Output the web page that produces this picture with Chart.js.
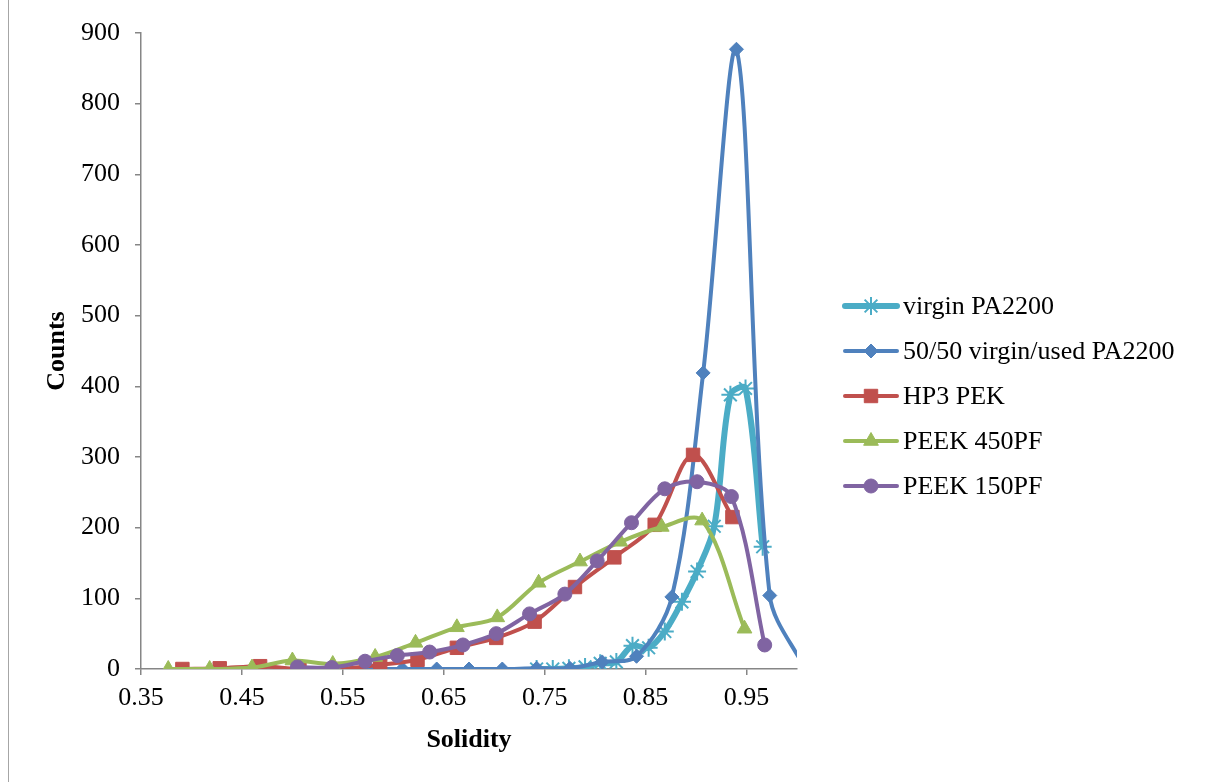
<!DOCTYPE html>
<html>
<head>
<meta charset="utf-8">
<script src="https://cdn.jsdelivr.net/npm/chart.js@4/dist/chart.umd.min.js"></script>
<style>
  html, body { margin: 0; padding: 0; background: #fff; }
  canvas { display: block; }
</style>
</head>
<body>
<canvas id="solidity" width="1210" height="782"></canvas>
<script>
// solidity distribution per powder
const xTicks = [0.35, 0.45, 0.55, 0.65, 0.75, 0.85, 0.95];

const virginX = [0.742, 0.758, 0.774, 0.790, 0.805, 0.821, 0.837, 0.853, 0.869, 0.886, 0.901, 0.918, 0.934, 0.949, 0.966];
const virginY = [0, 0, 1, 3, 8, 10, 33, 30, 53, 95, 138, 202, 388, 397, 173];

const blendX = [0.541, 0.575, 0.609, 0.643, 0.675, 0.708, 0.742, 0.775, 0.807, 0.841, 0.876, 0.907, 0.940, 0.973, 1.008];
const blendY = [0, 0, 0, 0, 0, 0, 1, 1, 10, 18, 102, 419, 877, 104, 0];

const hp3X = [0.391, 0.428, 0.468, 0.507, 0.547, 0.587, 0.624, 0.663, 0.702, 0.740, 0.780, 0.819, 0.859, 0.897, 0.936];
const hp3Y = [0, 1, 4, 0, 0, 6, 13, 30, 44, 67, 116, 158, 204, 303, 215];

const peek450X = [0.377, 0.418, 0.460, 0.500, 0.540, 0.582, 0.622, 0.663, 0.703, 0.744, 0.785, 0.825, 0.866, 0.906, 0.948];
const peek450Y = [0, 0, 2, 12, 7, 17, 37, 59, 73, 122, 152, 180, 201, 210, 57];

const peek150X = [0.505, 0.539, 0.572, 0.604, 0.636, 0.669, 0.702, 0.735, 0.770, 0.802, 0.836, 0.869, 0.901, 0.935, 0.968];
const peek150Y = [3, 2, 11, 19, 24, 34, 50, 78, 106, 153, 207, 255, 265, 244, 34];

const seriesNames = ['virgin PA2200', '50/50 virgin/used PA2200', 'HP3 PEK', 'PEEK 450PF', 'PEEK 150PF'];

const FONT = 'Liberation Serif';
const FONT_SIZE = 26;
const AXIS_GREY = '#868686';

const toPoints = (xs, ys) => xs.map((x, i) => ({ x: x, y: ys[i] }));

const makeSeries = (label, xs, ys, color, style, radius, lineWidth, order) => ({
    label: label,
    data: toPoints(xs, ys),
    borderColor: color,
    backgroundColor: color,
    borderWidth: lineWidth,
    pointStyle: style,
    pointRadius: radius,
    pointHoverRadius: radius,
    pointBackgroundColor: color,
    pointBorderColor: color,
    pointBorderWidth: style === 'star' ? 2 : 1,
    tension: 0.33,
    fill: false,
    showLine: true,
    order: order
});

// legend on the right: line sample with marker, then the name
const sideLegend = {
    id: 'sideLegend',
    afterDraw(chart) {
        const ctx = chart.ctx;
        ctx.save();
        chart.data.datasets.forEach((ds, i) => {
            const y = 306 + i * 45;
            ctx.strokeStyle = ds.borderColor;
            ctx.lineWidth = ds.borderWidth;
            ctx.lineCap = 'round';
            ctx.beginPath();
            ctx.moveTo(845, y);
            ctx.lineTo(897, y);
            ctx.stroke();
            ctx.lineCap = 'butt';
            ctx.fillStyle = ds.pointBackgroundColor;
            ctx.strokeStyle = ds.pointBorderColor;
            ctx.lineWidth = ds.pointBorderWidth;
            Chart.helpers.drawPoint(ctx, {
                pointStyle: ds.pointStyle,
                radius: ds.pointRadius,
                rotation: 0,
                borderWidth: ds.pointBorderWidth
            }, 871, y);
            ctx.fillStyle = '#000';
            ctx.font = FONT_SIZE + 'px "' + FONT + '"';
            ctx.textBaseline = 'middle';
            ctx.textAlign = 'left';
            ctx.fillText(ds.label, 903, y + 1);
        });
        ctx.restore();
    }
};

const frame = {
    id: 'frame',
    beforeDraw(chart) {
        const ctx = chart.ctx;
        ctx.save();
        ctx.fillStyle = '#fff';
        ctx.fillRect(0, 0, chart.width, chart.height);
        ctx.strokeStyle = '#a6a6a6';
        ctx.lineWidth = 1;
        ctx.beginPath();
        ctx.moveTo(8.5, 0);
        ctx.lineTo(8.5, chart.height);
        ctx.stroke();
        ctx.restore();
    }
};

const canvasContext = document.getElementById('solidity').getContext('2d');
const solidityChart = new Chart(canvasContext, {
    type: 'line',
    data: {
        datasets: [
            makeSeries(seriesNames[0], virginX, virginY, '#4BACC6', 'star', 9, 6, 5),
            makeSeries(seriesNames[1], blendX, blendY, '#4F81BD', 'rectRot', 7, 4, 4),
            makeSeries(seriesNames[2], hp3X, hp3Y, '#C0504D', 'rect', 9.5, 4, 3),
            makeSeries(seriesNames[3], peek450X, peek450Y, '#9BBB59', 'triangle', 8.5, 4, 2),
            makeSeries(seriesNames[4], peek150X, peek150Y, '#8064A2', 'circle', 7, 4, 1)
        ]
    },
    options: {
        responsive: false,
        devicePixelRatio: 1,
        animation: false,
        layout: { padding: { left: 38, right: 413, top: 33, bottom: 22 } },
        plugins: {
            legend: { display: false },
            tooltip: { enabled: false }
        },
        scales: {
            x: {
                type: 'linear',
                min: 0.35,
                max: 1.0,
                afterFit: (scale) => { scale.height = 91; },
                afterBuildTicks: (scale) => { scale.ticks = xTicks.map(v => ({ value: v })); },
                grid: { drawOnChartArea: false, drawTicks: true, tickLength: 6, color: AXIS_GREY, lineWidth: 1.5 },
                border: { display: true, color: AXIS_GREY, width: 1.5 },
                ticks: {
                    autoSkip: false,
                    maxRotation: 0,
                    padding: 8,
                    color: '#000',
                    font: { family: FONT, size: FONT_SIZE },
                    callback: (value) => Number(value).toFixed(2)
                },
                title: {
                    display: true,
                    text: 'Solidity',
                    color: '#000',
                    font: { family: FONT, size: FONT_SIZE, weight: 'bold' }
                }
            },
            y: {
                min: 0,
                max: 900,
                afterFit: (scale) => { scale.width = 103; },
                grid: { drawOnChartArea: false, drawTicks: true, tickLength: 6, color: AXIS_GREY, lineWidth: 1.5 },
                border: { display: true, color: AXIS_GREY, width: 1.5 },
                ticks: {
                    stepSize: 100,
                    padding: 15,
                    color: '#000',
                    font: { family: FONT, size: FONT_SIZE }
                },
                title: {
                    display: true,
                    text: 'Counts',
                    color: '#000',
                    font: { family: FONT, size: FONT_SIZE, weight: 'bold' }
                }
            }
        }
    },
    plugins: [frame, sideLegend]
});
</script>
</body>
</html>
